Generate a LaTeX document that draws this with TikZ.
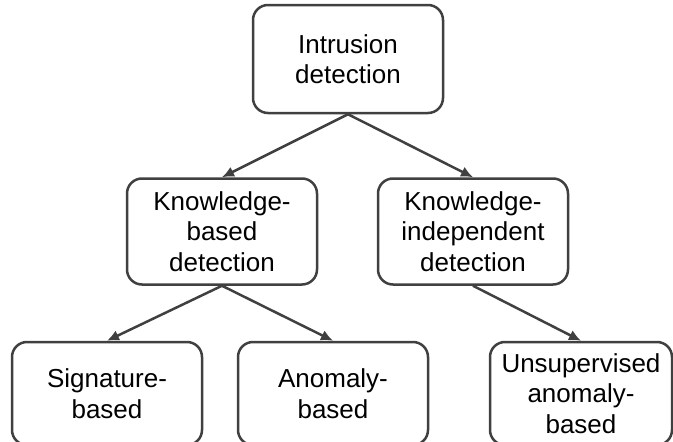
\documentclass[tikz,border=0pt]{standalone}
\usepackage{fontspec}
\setmainfont{Liberation Sans}
\usetikzlibrary{positioning,arrows.meta}

\definecolor{edgegray}{HTML}{404040}

\tikzstyle{block} = [rectangle, draw=edgegray, line width=2.5pt, align=center,
rounded corners=15pt, minimum width=190pt, minimum height=106pt,
font=\fontsize{26}{30.5}\selectfont]
\tikzstyle{leaf} = [block, minimum height=103pt]
\tikzstyle{line} = [draw=edgegray, line width=2.5pt, -{Latex[length=12pt,width=11pt]}]

\begin{document}
\begin{tikzpicture}[node distance = 63pt, auto]
		\useasboundingbox (0,0) rectangle (673pt,-442pt);
		\node [block, minimum height=108pt] (Intrusion) at (348pt,-59pt) {Intrusion\\detection};
		\node [block, below=of Intrusion, xshift=-126pt] (Knowledge) {Knowledge-\\based\\detection};
		\node [block, below=of Intrusion, xshift=125pt] (Independent) {Knowledge-\\independent\\detection};
		\node [leaf, below=55pt of Knowledge, xshift=-115pt] (Signature) {Signature-\\based};
		\node [leaf, below=55pt of Knowledge, xshift=111pt] (Anomaly) {Anomaly-\\based};
		\node [leaf, below=55pt of Independent, xshift=108pt, minimum width=182pt] (Unsupervised) {Unsupervised\\anomaly-\\based};

		\path [line] (Intrusion.south) -- (Knowledge.north);
		\path [line] (Intrusion.south) -- (Independent.north);
		\path [line] (Knowledge.south) -- (Signature.north);
		\path [line] (Knowledge.south) -- (Anomaly.north);
		\path [line] (Independent.south) -- (Unsupervised.north);
	\end{tikzpicture}
\end{document}
